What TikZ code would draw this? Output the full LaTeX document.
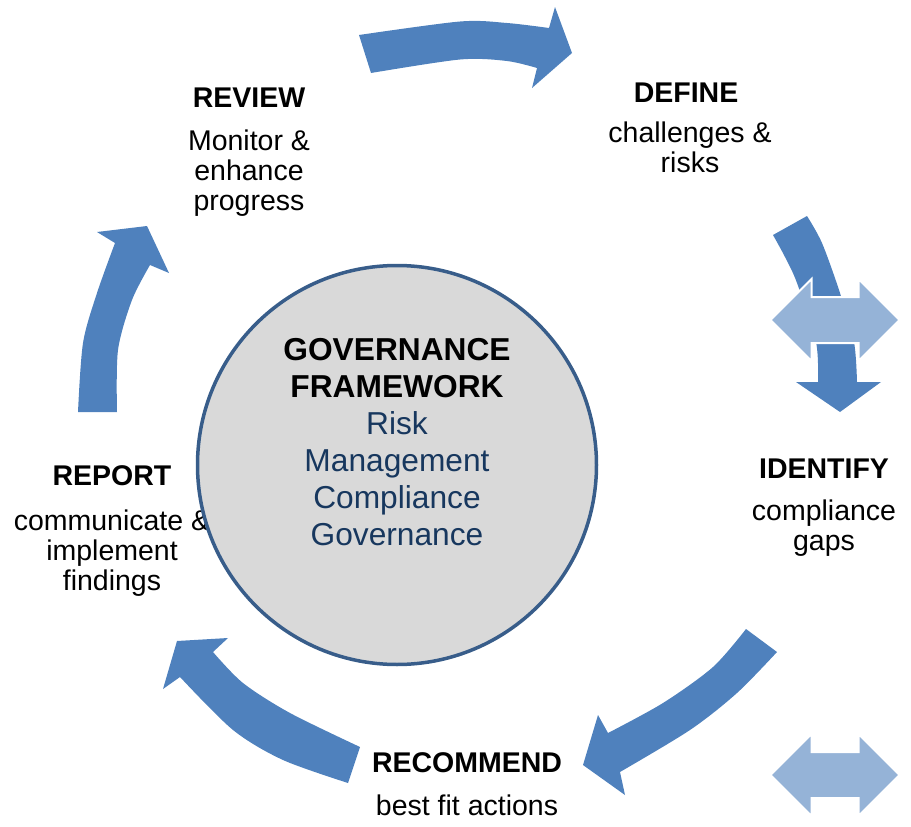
\documentclass[tikz,border=0pt]{standalone}
\usepackage{fontspec}
\setmainfont{Liberation Sans}
\usetikzlibrary{positioning}
\definecolor{cycleblue}{RGB}{79,129,189}
\definecolor{swapblue}{RGB}{149,179,215}
\definecolor{hubfill}{RGB}{217,217,217}
\definecolor{hubline}{RGB}{56,93,138}
\definecolor{hubblue}{RGB}{23,55,94}
\newcommand{\stepfont}{\fontsize{28.5}{30.2}\selectfont}
\newcommand{\hubfont}{\fontsize{31.7}{36.7}\selectfont}

\begin{document}
\begin{tikzpicture}[x=1pt,y=-1pt,node distance=22pt,
    steptitle/.style={font=\stepfont\bfseries,inner sep=0pt,anchor=base},
    steptext/.style={font=\stepfont,align=center,inner sep=0pt},
    cyclearrow/.style={fill=cycleblue},
    swaparrow/.style={fill=swapblue,draw=white,line width=2pt},
    hub/.style={circle,fill=hubfill,draw=hubline,line width=3.5pt,minimum size=399pt,inner sep=0pt},
    hubtitle/.style={font=\hubfont\bfseries,align=center,inner sep=0pt},
    hubsub/.style={font=\hubfont,text=hubblue,align=center,inner sep=0pt}]
    % coordinates are in px, y grows downward
    \useasboundingbox (0,0) rectangle (911,827);

    % Review -> Define
    \fill[cyclearrow] plot[smooth] coordinates {(359,35) (460,21.5) (507,23) (549,28)}
        -- (555,7) -- (572,53) -- (532,88) -- (537,68)
        -- plot[smooth] coordinates {(537,68) (507,61) (460,59.5) (371,73)} -- cycle;

    % Define -> Identify
    \fill[cyclearrow] plot[smooth] coordinates {(773,235) (785,257) (797,283) (816,342) (818,382)}
        -- (796,382) -- (840,412) -- (881,382) -- (857,382)
        -- plot[smooth] coordinates {(857,382) (854,342) (840,293) (822,243) (807,216)} -- cycle;

    % Identify -> Recommend
    \fill[cyclearrow] plot[smooth] coordinates {(746,629) (713,667) (663,703) (608,733)}
        -- (598,715) -- (583,765) -- (625,795) -- (620,772)
        -- plot[smooth] coordinates {(620,772) (690,730) (737,693) (777,652)} -- cycle;

    % Recommend -> Report
    \fill[cyclearrow] plot[smooth] coordinates {(360,747) (290,713) (243,683) (213,652)}
        -- (228,638) -- (177,641) -- (163,689) -- (180,677)
        -- plot[smooth] coordinates {(180,677) (233,730) (283,760) (348,783)} -- cycle;

    % Report -> Review
    \fill[cyclearrow] plot[smooth] coordinates {(117,412) (118,350) (132,300) (150,265)}
        -- (169,273) -- (147,226) -- (97,232) -- (115,243)
        -- plot[smooth] coordinates {(115,243) (97,293) (83,343) (78,412)} -- cycle;

    % two-way arrows on the right
    \foreach \y in {320,775}
        \filldraw[swaparrow,shift={(835,\y)}] (-64.5,0) -- (-23.5,-41) -- (-23.5,-23)
            -- (23.5,-23) -- (23.5,-41) -- (64.5,0) -- (23.5,41) -- (23.5,23)
            -- (-23.5,23) -- (-23.5,41) -- cycle;

    % steps
    \node[steptitle] (review) at (249,107) {REVIEW};
    \node[steptext,below=of review] (reviewtxt) {Monitor \&\\enhance\\progress};
    \node[steptitle] (define) at (686,102) {DEFINE};
    \node[steptext,below=19pt of define,xshift=4pt] (definetxt) {challenges \&\\risks};
    \node[steptitle] (identify) at (824,478) {IDENTIFY};
    \node[steptext,below=21pt of identify] (identifytxt) {compliance\\gaps};
    \node[steptitle] (report) at (112,485) {REPORT};
    \node[steptext,below=24pt of report] (reporttxt) {communicate \&\\implement\\findings};
    \node[steptitle] (recommend) at (467,772) {RECOMMEND};
    \node[steptext,below=of recommend] (recommendtxt) {best fit actions};

    % framework in the middle
    \node[hub] (hub) at (397,465) {};
    \node[hubtitle] (hubhead) at (397,368) {GOVERNANCE\\FRAMEWORK};
    \node[hubsub,below=14pt of hubhead] (hubtxt) {Risk\\Management\\Compliance\\Governance};
\end{tikzpicture}
\end{document}
